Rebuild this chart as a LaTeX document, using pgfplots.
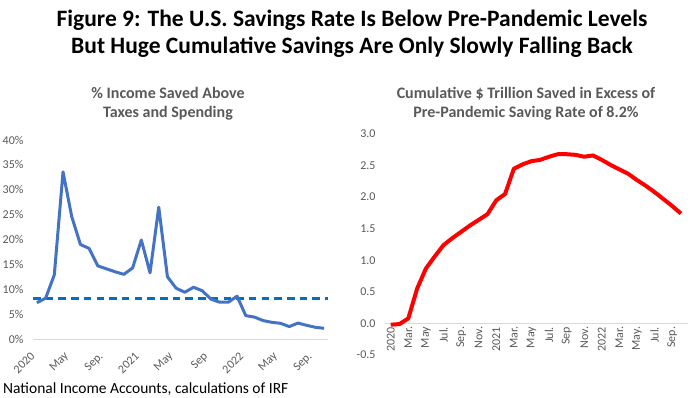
\documentclass[border=0pt]{standalone}
\usepackage{graphicx}
\usepackage{pgfplots}
\pgfplotsset{compat=1.18}
\usepackage{fontspec}
\setmainfont{Carlito}
\definecolor{lblue}{RGB}{68,114,196}
\definecolor{dblue}{RGB}{0,112,192}
\definecolor{tgray}{RGB}{89,89,89}
\definecolor{agray}{RGB}{217,217,217}
\newcommand{\rl}[1]{\rotatebox{45}{#1}}
\pgfplotstableread{
i v
0 7.3
1 8.2
2 12.9
3 33.6
4 24.6
5 19.0
6 18.2
7 14.7
8 14.1
9 13.5
10 13.0
11 14.3
12 19.9
13 13.3
14 26.5
15 12.5
16 10.2
17 9.4
18 10.4
19 9.7
20 8.0
21 7.4
22 7.4
23 8.6
24 4.7
25 4.4
26 3.7
27 3.35
28 3.15
29 2.5
30 3.2
31 2.75
32 2.35
33 2.15
}\ratetab
\pgfplotstableread{
i v
0 -0.02
1 -0.01
2 0.08
3 0.55
4 0.87
5 1.06
6 1.24
7 1.35
8 1.45
9 1.55
10 1.64
11 1.73
12 1.95
13 2.05
14 2.45
15 2.52
16 2.57
17 2.59
18 2.64
19 2.68
20 2.68
21 2.67
22 2.64
23 2.66
24 2.59
25 2.51
26 2.44
27 2.37
28 2.27
29 2.18
30 2.08
31 1.97
32 1.86
33 1.74
}\cumtab
\begin{document}
\begin{tikzpicture}
\useasboundingbox (0pt,0pt) rectangle (693pt,397pt);
\node[font=\fontsize{23.5}{27}\selectfont\bfseries] at (352pt,377pt) {Figure 9: The U.S. Savings Rate Is Below Pre-Pandemic Levels};
\node[font=\fontsize{23.5}{27}\selectfont\bfseries] at (352pt,350pt) {But Huge Cumulative Savings Are Only Slowly Falling Back};
\node[font=\fontsize{16}{19}\selectfont\bfseries, text=tgray, align=center] at (168pt,293pt) {\% Income Saved Above\\Taxes and Spending};
\node[font=\fontsize{16}{19}\selectfont\bfseries, text=tgray, align=center] at (526pt,293pt) {Cumulative \$ Trillion Saved in Excess of\\Pre-Pandemic Saving Rate of 8.2\%};
\node[font=\fontsize{15.5}{18}\selectfont, anchor=base west, inner sep=0pt] at (3pt,4pt) {National Income Accounts, calculations of IRF};
\begin{axis}[at={(33pt,58pt)}, anchor=south west, scale only axis,
  width=295pt, height=199pt,
  xmin=-0.45, xmax=33.45, ymin=0, ymax=40,
  axis x line=bottom, axis y line=left,
  x axis line style={draw=agray, line width=0.8pt, -},
  y axis line style={draw=none},
  major tick length=0pt, tick style={draw=none},
  ytick={0,5,...,40},
  yticklabel={\pgfmathprintnumber{\tick}\%},
  xtick={0,4,...,32},
  xticklabels={\rl{2020},\rl{May},\rl{Sep.},\rl{2021},\rl{May},\rl{Sep},\rl{2022},\rl{May},\rl{Sep.}},
  ticklabel style={font=\fontsize{12}{14}\selectfont, text=tgray},
  yticklabel style={xshift=-6pt},
  xticklabel style={anchor=north east, xshift=2pt, yshift=-9pt},
  /pgf/number format/assume math mode=true,
  clip=false]
\addplot[dblue, line width=2.6pt, dash pattern=on 7.5pt off 5.2pt] coordinates {(-0.45,8.2) (33.45,8.2)};
\addplot[lblue, line width=3pt, line join=round] table[x=i,y=v] {\ratetab};
\end{axis}
\begin{axis}[at={(385pt,42pt)}, anchor=south west, scale only axis,
  width=303pt, height=221pt,
  xmin=-0.65, xmax=33.8, ymin=-0.5, ymax=3.0,
  axis x line=middle, axis y line=left,
  hide obscured x ticks=false, hide obscured y ticks=false,
  x axis line style={draw=agray, line width=0.8pt, -},
  y axis line style={draw=none},
  major tick length=0pt, tick style={draw=none},
  ytick={-0.5,0,0.5,1,1.5,2,2.5,3},
  yticklabel style={/pgf/number format/fixed, /pgf/number format/fixed zerofill, /pgf/number format/precision=1, xshift=-6pt},
  xtick={0,2,...,32},
  xticklabels={2020,Mar.,May,Jul.,Sep.,Nov.,2021,Mar.,May,Jul.,Sep,Nov.,2022,Mar.,May.,Jul.,Sep.},
  ticklabel style={font=\fontsize{12}{14}\selectfont, text=tgray},
  xticklabel style={rotate=90, anchor=east, yshift=0pt},
  /pgf/number format/assume math mode=true,
  clip=false]
\addplot[red, line width=4pt, line join=round] table[x=i,y=v] {\cumtab};
\end{axis}
\end{tikzpicture}
\end{document}
